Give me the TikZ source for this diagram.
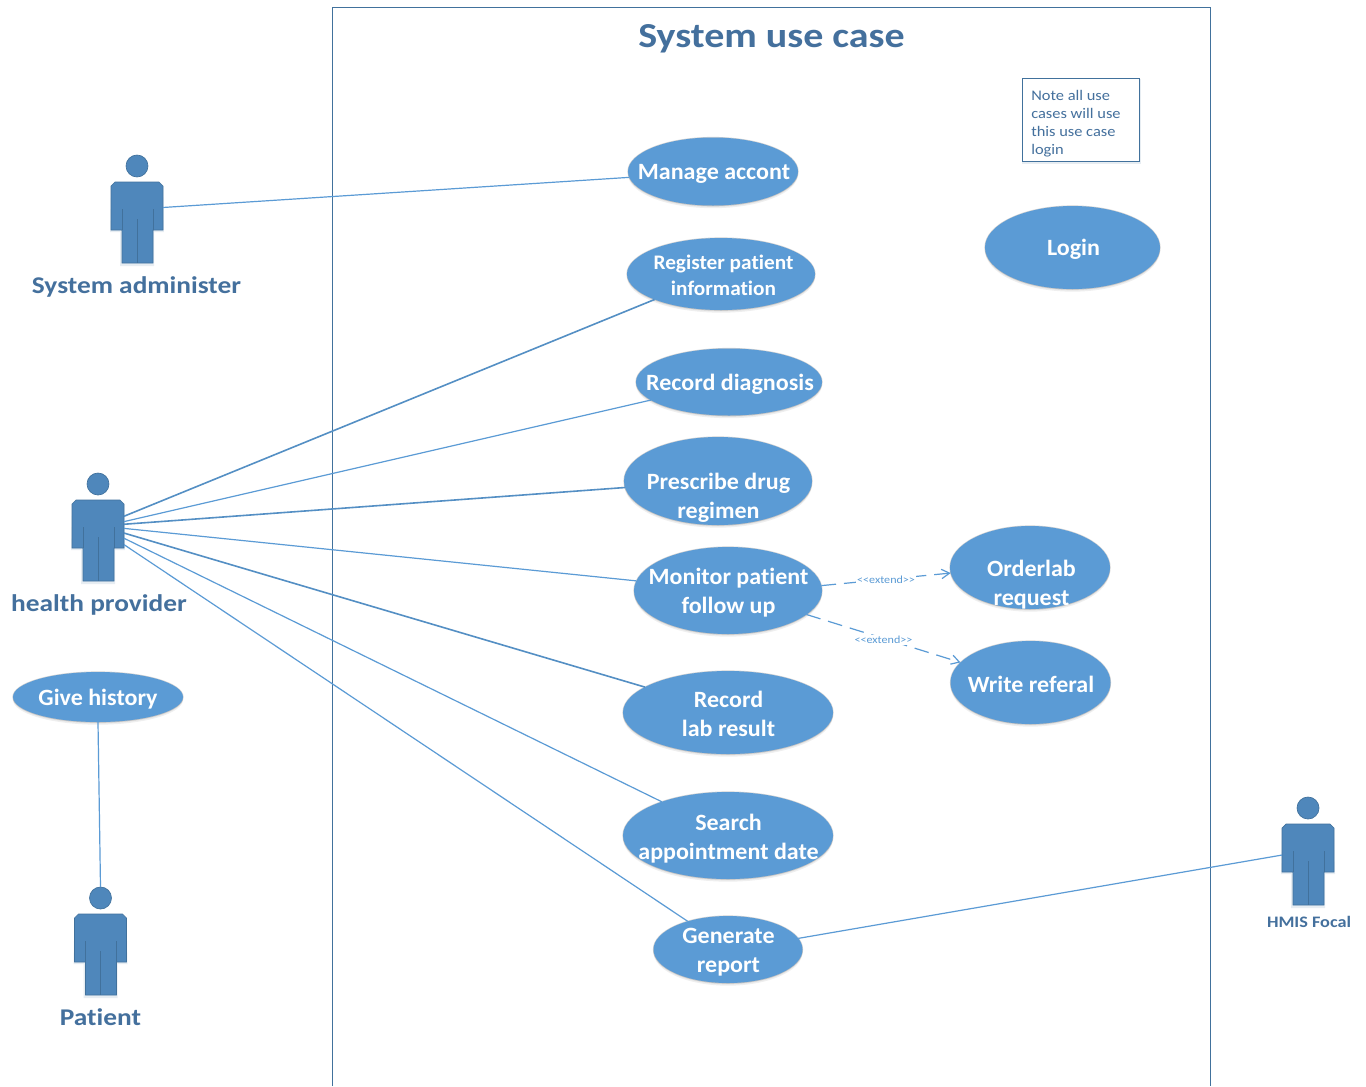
\documentclass[tikz,border=0pt]{standalone}
\usepackage{fontspec}
\setmainfont{Carlito}
\newfontface\widebold[FakeStretch=1.14,Ligatures={NoCommon}]{Carlito Bold}
\newfontface\midbold[FakeStretch=1.03,Ligatures={NoCommon}]{Carlito Bold}
\newfontface\widereg[FakeStretch=1.12,Ligatures={NoCommon}]{Carlito}
\usetikzlibrary{shapes.geometric,arrows.meta,calc}
\definecolor{ucfill}{HTML}{5B9BD5}
\definecolor{actfill}{HTML}{4F87BB}
\definecolor{actline}{HTML}{41719C}
\definecolor{txtblue}{HTML}{44709D}
\definecolor{lnblue}{HTML}{5B9BD5}
\tikzset{
  x=0.75pt,y=-0.75pt,
  softshade/.style={preaction={fill=black!60,fill opacity=.10,transform canvas={yshift=-1pt}},
                    preaction={fill=black!60,fill opacity=.10,transform canvas={yshift=-2pt}},
                    preaction={draw=black!50,draw opacity=.35,line width=0.9pt}},
  usecase/.style={ellipse,fill=ucfill,draw=none,inner sep=0pt,outer sep=0pt,softshade},
  uctext/.style={text=white,font=\fontsize{17.5}{21.8}\midbold,align=center,inner sep=0pt},
  regtext/.style={text=white,font=\fontsize{15.5}{19.5}\midbold,align=center,inner sep=0pt},
  assoc/.style={draw=lnblue,line width=0.9pt},
  heavyassoc/.style={draw=lnblue!92!black,line width=1.2pt},
  extendline/.style={draw=lnblue,line width=0.9pt,dash pattern=on 11pt off 6pt,-{Straight Barb[length=6pt,width=7pt]}},
  extlabel/.style={fill=white,text=lnblue,font=\fontsize{8.1}{9}\widereg,inner sep=1pt},
  actorname/.style={text=txtblue,font=\fontsize{18}{22}\widebold,inner sep=0pt},
  actorbody/.style={fill=actfill,draw=actline,line width=0.5pt},
  actorbox/.style={rectangle,inner sep=0pt,outer sep=0pt,minimum width=39pt,minimum height=60.75pt},
  actorhead/.style={circle,fill=actfill,draw=actline,line width=0.5pt,inner sep=0pt,outer sep=0pt,minimum size=16.5pt},
  framebox/.style={draw=actline,line width=0.75pt},
  notebox/.style={rectangle,draw=actline,fill=white,line width=0.75pt,minimum width=87.75pt,minimum height=62.25pt,inner sep=0pt,outer sep=0pt,
    preaction={draw=actline,draw opacity=.12,line width=1.5pt,transform canvas={yshift=-1.5pt,xshift=.8pt}}},
  notetext/.style={text=txtblue,font=\fontsize{11}{13.5}\widereg,align=left,inner sep=0pt,anchor=north west},
}
\newcommand{\ucnode}[9][uctext]{%
  \node[usecase,minimum width=#5*0.75pt,minimum height=#6*0.75pt] (#2) at (#3,#4) {};
  \node[#1] (#2-t) at (#9,#8) {#7};
}
\newcommand{\actorfig}[3]{%
  \node[actorbox] (#1) at (#2,#3+40.5) {};
  \node[actorhead] (#1-h) at (#2,#3-16) {};
  \begin{scope}[shift={(#2,#3)}]
    \fill[actline,opacity=.12] (-26,4)--(-22,2)--(22,2)--(26,4)--(27,50)--(17,50)--(17,84)--(-17,84)--(-17,50)--(-27,50)--cycle;
    \path[actorbody] (-22,0)--(22,0)--(26,4)--(26,48)--(16,48)--(16,81)--(-15,81)--(-15,48)--(-26,48)--(-26,4)--cycle;
    \draw[actline,line width=0.5pt] (-15,27)--(-15,48) (16,27)--(16,48) (0,37)--(0,81);
  \end{scope}
}
\begin{document}
\begin{tikzpicture}
\useasboundingbox (0,0) rectangle (1366,1086);
\fill[white] (0,0) rectangle (1366,1086);
% frame
\coordinate (fbl) at (332.5,1086);
\coordinate (ftl) at (332.5,7.5);
\coordinate (ftr) at (1210,7.5);
\coordinate (fbr) at (1210,1086);
\draw[framebox] (fbl)--(ftl)--(ftr)--(fbr);
\node[text=txtblue,font=\fontsize{26.3}{30}\widebold,inner sep=0pt] (title) at (771.5,39) {System use case};
% note
\node[notebox] (note) at (1080.5,119.5) {};
\node[notetext] (notetx) at (1031,90) {Note all use\\cases will use\\this use case\\login};
% use cases
\ucnode{manage}{713}{171.5}{170}{68}{Manage accont}{174}{714}
\ucnode[regtext]{register}{721}{274}{188}{72}{Register patient\\information}{275}{723.5}
\ucnode{diagnosis}{729}{382}{186}{67}{Record diagnosis}{384}{730}
\ucnode{prescribe}{718}{481}{188}{88}{Prescribe drug\\regimen}{498}{718.5}
\ucnode{monitor}{728}{590.5}{188}{87}{Monitor patient\\follow up}{593}{728.5}
\ucnode{labres}{728}{712.5}{210}{83}{Record\\lab result}{714}{728.5}
\ucnode{search}{728}{835.5}{210}{87}{Search\\appointment date}{838.5}{728.5}
\ucnode{generate}{728}{949.5}{149}{67}{Generate\\report}{952.5}{728.5}
\ucnode{login}{1072.5}{247.5}{175}{83}{Login}{249}{1073.5}
\ucnode{orderlab}{1030}{567.5}{160}{83}{Orderlab\\request}{584.5}{1031.5}
\ucnode{referal}{1030.5}{682.5}{160}{83}{Write referal}{684.5}{1031}
\ucnode{history}{98}{697}{170}{50}{Give history}{699.5}{98}
% actors
\actorfig{admin}{137}{182}
\actorfig{provider}{98}{500}
\actorfig{patient}{100.5}{914}
\actorfig{hmis}{1308}{824}
\node[actorname] (adminname) at (136.5,287) {System administer};
\node[actorname] (providername) at (99,605) {health provider};
\node[actorname] (patientname) at (100.5,1017) {Patient};
\node[text=txtblue,font=\fontsize{12}{14}\widebold,inner sep=0pt] (hmisname) at (1309,921.5) {HMIS Focal};
% associations
\draw[assoc] (admin.30.8) -- (manage.184.1);
\draw[heavyassoc] (provider.43.3) -- (register.201.8);
\draw[assoc] (provider.36.9) -- (diagnosis.193.2);
\draw[heavyassoc] (provider.32.4) -- (prescribe.184.3);
\draw[assoc] (provider.25.7) -- (monitor.174.4);
\draw[heavyassoc] (provider.16.1) -- (labres.163.9);
\draw[assoc] (provider.5.5) -- (search.153.4);
\draw[assoc] (provider.-9.8) -- (generate.145.7);
\draw[assoc] (history.south) -- (patient-h.north);
\draw[assoc] (generate.9.7) -- (hmis.160);
% extends
\draw[extendline] (monitor.3.7) -- node[extlabel,pos=.5] (ext1) {{<}{<}extend{>}{>}} (orderlab.184.5);
\draw[extendline] (monitor.-17.8) -- node[extlabel,pos=.5,yshift=-1pt] (ext2) {{<}{<}extend{>}{>}} (referal.164.4);
\end{tikzpicture}
\end{document}
